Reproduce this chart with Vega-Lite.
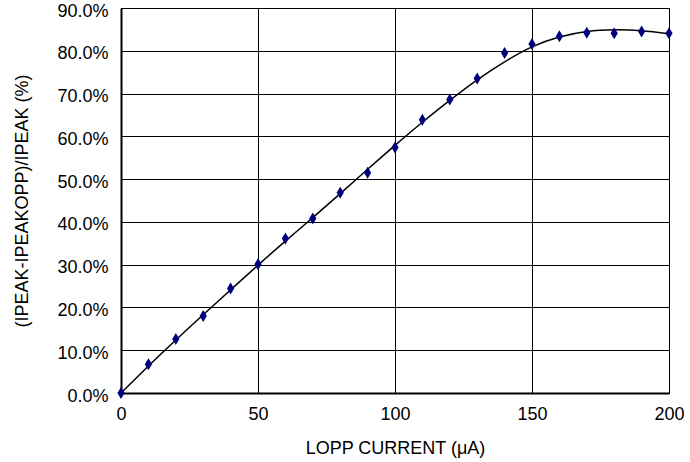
{
  "$schema": "https://vega.github.io/schema/vega-lite/v6.json",
  "width": 548,
  "height": 385,
  "autosize": "none",
  "padding": {"left": 121, "top": 8, "right": 21, "bottom": 69},
  "background": "white",
  "config": {
    "view": {"stroke": "black", "strokeWidth": 1},
    "axis": {
      "labelFont": "Liberation Sans",
      "titleFont": "Liberation Sans",
      "labelFontSize": 18,
      "titleFontSize": 18,
      "titleFontWeight": "normal",
      "labelColor": "black",
      "titleColor": "black",
      "domainColor": "black",
      "domainWidth": 2,
      "gridColor": "black",
      "gridOpacity": 1,
      "gridWidth": 1,
      "ticks": false
    }
  },
  "datasets": {
    "points": [
      {"x": 0, "y": 0.0},
      {"x": 10, "y": 0.067},
      {"x": 20, "y": 0.126},
      {"x": 30, "y": 0.180},
      {"x": 40, "y": 0.244},
      {"x": 50, "y": 0.301},
      {"x": 60, "y": 0.361},
      {"x": 70, "y": 0.408},
      {"x": 80, "y": 0.468},
      {"x": 90, "y": 0.515},
      {"x": 100, "y": 0.574},
      {"x": 110, "y": 0.639},
      {"x": 120, "y": 0.686},
      {"x": 130, "y": 0.735},
      {"x": 140, "y": 0.795},
      {"x": 150, "y": 0.816},
      {"x": 160, "y": 0.834},
      {"x": 170, "y": 0.842},
      {"x": 180, "y": 0.841},
      {"x": 190, "y": 0.845},
      {"x": 200, "y": 0.841}
    ],
    "curve": [
      {"x": 0, "y": 0.0},
      {"x": 10, "y": 0.063},
      {"x": 20, "y": 0.124},
      {"x": 30, "y": 0.183},
      {"x": 40, "y": 0.241},
      {"x": 50, "y": 0.299},
      {"x": 60, "y": 0.355},
      {"x": 70, "y": 0.410},
      {"x": 80, "y": 0.466},
      {"x": 90, "y": 0.523},
      {"x": 100, "y": 0.579},
      {"x": 110, "y": 0.633},
      {"x": 120, "y": 0.684},
      {"x": 130, "y": 0.732},
      {"x": 140, "y": 0.774},
      {"x": 150, "y": 0.809},
      {"x": 160, "y": 0.832},
      {"x": 170, "y": 0.845},
      {"x": 180, "y": 0.849},
      {"x": 190, "y": 0.847},
      {"x": 200, "y": 0.840}
    ]
  },
  "layer": [
    {
      "data": {"name": "curve"},
      "mark": {"type": "line", "color": "black", "strokeWidth": 1.5, "interpolate": "natural"},
      "encoding": {
        "x": {
          "field": "x", "type": "quantitative",
          "scale": {"domain": [0, 200], "nice": false},
          "axis": {"values": [0, 50, 100, 150, 200], "title": "LOPP CURRENT (μA)", "labelPadding": 12, "titlePadding": 16, "labelFlush": false}
        },
        "y": {
          "field": "y", "type": "quantitative",
          "scale": {"domain": [0, 0.9], "nice": false},
          "axis": {"values": [0, 0.1, 0.2, 0.3, 0.4, 0.5, 0.6, 0.7, 0.8, 0.9], "format": ".1%", "title": "(IPEAK-IPEAKOPP)/IPEAK (%)", "labelPadding": 13, "labelOffset": 3, "titlePadding": 25, "labelFlush": false}
        }
      }
    },
    {
      "data": {"name": "points"},
      "mark": {"type": "point", "filled": true, "opacity": 1, "color": "#00007a", "shape": "M0,-1L0.6,0L0,1L-0.6,0Z", "size": 144},
      "encoding": {
        "x": {"field": "x", "type": "quantitative"},
        "y": {"field": "y", "type": "quantitative"}
      }
    }
  ]
}
